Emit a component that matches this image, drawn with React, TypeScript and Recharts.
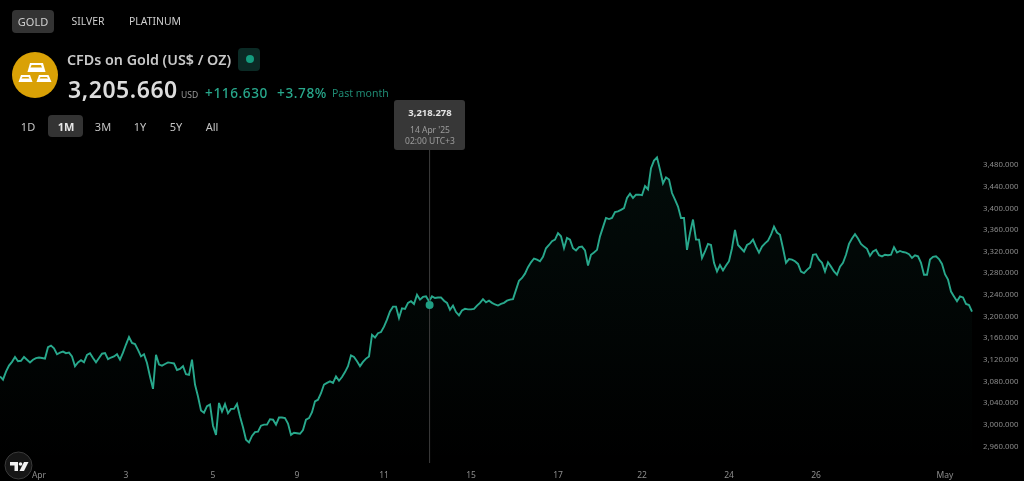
import React from "react";
import { AreaChart, Area, XAxis, YAxis, ReferenceLine, ReferenceDot } from "recharts";

// Price, in six consecutive stretches of equally spaced bars
const pricesA = [3086,3080,3095,3106,3113,3122,3114,3115,3122,3117,3112,3117,3120,3121,3120,3119,3140,3143,3138,3127,3130,3132,3129,3130,3123,3105,3112,3116,3112,3126,3129,3120,3112,3120,3128,3129,3118,3121,3123,3127,3117,3130,3145,3159,3148,3146,3135,3123,3127,3111,3086,3063,3126,3108];
const pricesB = [3106,3109,3112,3111,3110,3098,3100,3105,3090,3089,3117,3071,3049,3023,3019,3031,3034,2995,2978,3037,3021,3035,3018,3026,3026,3035,3012,2992,2969,2964,2976,2983,2984,2995,2997,2997,3007,3006,2997,3010,3010,3009,2999,2978,2982,2981,2980,2987,3006,3009,3020,3040,3043];
const pricesC = [3055,3071,3074,3077,3074,3086,3078,3085,3094,3105,3125,3122,3114,3105,3113,3119,3123,3163,3158,3166,3168,3178,3191,3206,3215,3215,3194,3212,3211,3222,3225,3220,3237,3228,3233,3234,3225,3234,3231,3232,3232,3226,3222,3209,3217,3205,3199,3208,3211,3210,3210,3211,3217,3222];
const pricesD = [3229,3223,3226,3222,3219,3217,3220,3222,3226,3228,3229,3246,3263,3268,3276,3288,3297,3304,3302,3299,3307,3323,3329,3336,3339,3351,3345,3323,3342,3339,3323,3319,3325,3326,3319,3291,3311,3315,3320,3345,3362,3379,3377,3379,3390,3391,3394,3397,3416,3424,3416,3422,3422];
const pricesE = [3421,3438,3432,3471,3485,3491,3468,3443,3454,3450,3425,3413,3400,3379,3379,3320,3351,3376,3339,3339,3305,3317,3331,3329,3296,3280,3292,3282,3291,3299,3323,3357,3329,3323,3317,3329,3332,3339,3326,3315,3326,3332,3337,3348,3363,3352,3348,3323,3296,3303,3302,3299,3294];
const pricesF = [3280,3277,3283,3288,3311,3312,3302,3296,3280,3297,3289,3280,3274,3289,3296,3311,3331,3341,3349,3341,3331,3326,3322,3309,3317,3320,3310,3308,3311,3310,3311,3325,3315,3318,3316,3315,3312,3305,3310,3308,3296,3274,3274,3302,3307,3308,3303,3294,3275,3265,3243,3234,3225,3234,3232,3220,3218,3206];

const prices = [...pricesA, ...pricesB, ...pricesC, ...pricesD, ...pricesE, ...pricesF];
const rows = prices.map((price, bar) => ({ bar, price }));

const xTickBars = [13, 42, 71, 99, 128, 157, 186, 214, 243, 272, 315];
const xTickLabels = ["Apr", "3", "5", "9", "11", "15", "17", "22", "24", "26", "May"];
const yTicks = [2960,3000,3040,3080,3120,3160,3200,3240,3280,3320,3360,3400,3440,3480];

const hoverBar = 143.2;
const hoverPrice = 3218.278;

const tabs = ["GOLD", "SILVER", "PLATINUM"];
const ranges = ["1D", "1M", "3M", "1Y", "5Y", "All"];

const FONT = '"Noto Sans", sans-serif';
const TEAL = "#28a88c";

const abs = (left: number, top: number, extra: React.CSSProperties = {}): React.CSSProperties => ({
  position: "absolute", left, top, whiteSpace: "nowrap", ...extra,
});
const centered = (cx: number, cy: number, extra: React.CSSProperties = {}): React.CSSProperties => ({
  position: "absolute", left: cx, top: cy, transform: "translate(-50%,-50%)", whiteSpace: "nowrap", ...extra,
});

const tabCenters = [33, 88, 155];
const rangeCenters = [28, 66, 103, 140, 176, 212];

export default function App() {
  return (
    <div style={{ position: "absolute", left: 0, top: 0, width: 1024, height: 481, background: "#000", overflow: "hidden", fontFamily: FONT, filter: "blur(0.3px)" }}>
      <AreaChart width={1024} height={481} data={rows} margin={{ top: 139.5, right: 0, bottom: 0, left: 0 }} style={{ position: "absolute", left: 0, top: 0 }}>
        <defs>
          <linearGradient id="fade" x1="0" y1="0" x2="0" y2="1">
            <stop offset="0%" stopColor={TEAL} stopOpacity={0.12} />
            <stop offset="100%" stopColor={TEAL} stopOpacity={0} />
          </linearGradient>
        </defs>
        <XAxis
          dataKey="bar" type="number" domain={[0, prices.length - 1]} ticks={xTickBars}
          tickFormatter={(v: number) => xTickLabels[xTickBars.indexOf(v)]}
          axisLine={false} tickLine={false} height={18} tickMargin={3} interval={0}
          tick={{ fill: "#8c8c8c", fontSize: 8.5, fontFamily: FONT }}
        />
        <YAxis
          orientation="right" width={52} domain={[2926, 3524]} ticks={yTicks} interval={0}
          tickFormatter={(v: number) => v.toLocaleString("en-US", { minimumFractionDigits: 3 })}
          axisLine={false} tickLine={false} tickMargin={5} allowDataOverflow
          tick={{ fill: "#8c8c8c", fontSize: 7.8, fontFamily: FONT, textAnchor: "start", dy: 1.2 }}
        />
        <ReferenceLine x={hoverBar} stroke="#3d3d3d" strokeWidth={1} />
        <Area dataKey="price" type="linear" stroke={TEAL} strokeWidth={1.9} fill="url(#fade)" isAnimationActive={false} dot={false} activeDot={false} />
        <ReferenceDot x={hoverBar} y={hoverPrice} r={4} fill="#1f9e83" stroke="none" />
      </AreaChart>

      {/* instrument tabs */}
      <div style={abs(12, 10, { width: 42, height: 23, background: "#333", borderRadius: 4 })} />
      {tabs.map((t, i) => (
        <div key={t} style={centered(tabCenters[i], 21, { color: "#cfcfcf", fontSize: i === 0 ? 11 : 10.4 })}>{t}</div>
      ))}

      {/* heading */}
      <svg width={46} height={46} style={abs(11.5, 52)}>
        <circle cx={23} cy={23} r={23} fill="#d9a106" />
        <g fill="#fff">
          <path d="M18 11 L31 11 L33.5 20 L15.5 20 Z" />
          <path d="M9 23 L18 23 L20.5 30 L6.5 30 Z" />
          <path d="M27 23 L36.5 23 L39.5 30 L24.5 30 Z" />
        </g>
        <g fill="#d9a106">
          <path d="M19.5 13 L29 13 L30 15.5 L18.5 15.5 Z" />
          <path d="M10.5 25 L16.5 25 L17.5 26.5 L9.5 26.5 Z" />
          <path d="M28.5 25 L35 25 L36 26.5 L27.5 26.5 Z" />
        </g>
      </svg>
      <div style={abs(67, 50, { color: "#c9c9c9", fontSize: 14.3, fontWeight: 600, lineHeight: "19px" })}>CFDs on Gold (US$ / OZ)</div>
      <div style={abs(238, 48, { width: 22, height: 23, background: "#0b2a25", borderRadius: 4 })} />
      <div style={abs(245.5, 55, { width: 8, height: 8, borderRadius: 4, background: "#149c7e" })} />

      <div style={abs(68, 74, { color: "#dcdcdc", fontSize: 23, fontWeight: 600, lineHeight: "30px", letterSpacing: 0.55 })}>3,205.660</div>
      <div style={abs(181, 89, { color: "#9a9a9a", fontSize: 8.5, lineHeight: "11px" })}>USD</div>
      <div style={abs(205, 84, { color: TEAL, fontSize: 13.6, fontWeight: 500, lineHeight: "18px", letterSpacing: 0.6 })}>+116.630</div>
      <div style={abs(277, 84, { color: TEAL, fontSize: 13.6, fontWeight: 500, lineHeight: "18px", letterSpacing: 0.6 })}>+3.78%</div>
      <div style={abs(332, 86, { color: "#1f8a73", fontSize: 10.5, lineHeight: "15px" })}>Past month</div>

      {/* ranges */}
      <div style={abs(48, 115, { width: 35, height: 22, background: "#333", borderRadius: 4 })} />
      {ranges.map((r, i) => (
        <div key={r} style={centered(rangeCenters[i], 125.5, { color: i === 1 ? "#e6e6e6" : "#c4c4c4", fontSize: 11, fontWeight: i === 1 ? 700 : 400 })}>{r}</div>
      ))}

      {/* hover label */}
      <div style={abs(394, 100, { width: 71, height: 50, background: "#373737", borderRadius: 3 })} />
      <div style={centered(430, 112, { color: "#e4e4e4", fontSize: 9.5, fontWeight: 700 })}>3,218.278</div>
      <div style={centered(430, 128.5, { color: "#9c9c9c", fontSize: 8.5 })}>14 Apr '25</div>
      <div style={centered(430, 140, { color: "#9c9c9c", fontSize: 8.5 })}>02:00 UTC+3</div>

      {/* TV logo */}
      <svg width={30} height={30} style={abs(3.5, 450.5)}>
        <circle cx={14.5} cy={14.5} r={13.5} fill="#161616" stroke="#3a3a3a" strokeWidth={1} />
        <path d="M6 11 L14 11 L14 20 L10.5 20 L10.5 14.5 L6 14.5 Z" fill="#f2f2f2" />
        <circle cx={16.5} cy={13} r={1.8} fill="#f2f2f2" />
        <path d="M20 11 L24.5 11 L20 20 L15.5 20 Z" fill="#f2f2f2" />
      </svg>
    </div>
  );
}
